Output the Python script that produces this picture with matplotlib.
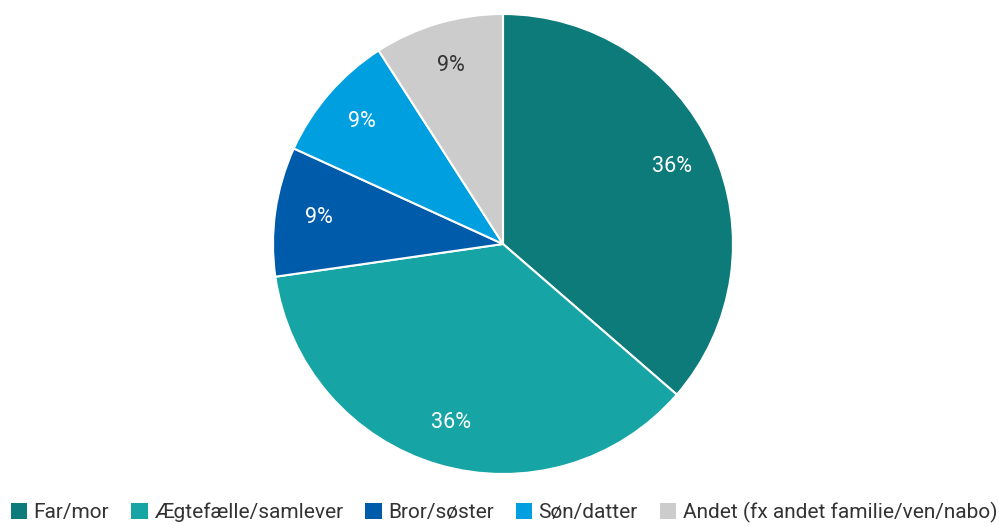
import matplotlib
matplotlib.use("Agg")
import matplotlib.pyplot as plt
from matplotlib.patches import Patch

plt.rcParams["font.family"] = ["Roboto", "DejaVu Sans"]

categories = ["Far/mor", "Ægtefælle/samlever", "Bror/søster", "Søn/datter",
              "Andet (fx andet familie/ven/nabo)"]
values = [4, 4, 1, 1, 1]
colors = ["#0e7b7b", "#17a4a5", "#005bab", "#009fdf", "#cccccc"]
label_colors = ["white", "white", "white", "white", "#333333"]

W, H = 999, 526
fig = plt.figure(figsize=(W / 100, H / 100), dpi=100)

# pie centre (503, 244) px, radius 230 px
cx, cy, r = 503, 244, 230
ax = fig.add_axes([(cx - r) / W, (H - cy - r) / H, 2 * r / W, 2 * r / H])

wedges, texts, autotexts = ax.pie(
    values, colors=colors, startangle=90, counterclock=False,
    autopct="%1.0f%%", pctdistance=0.81,
    wedgeprops=dict(edgecolor="white", linewidth=1.5),
    textprops=dict(fontsize=15.5),
)
for t, c in zip(autotexts, label_colors):
    t.set_color(c)
ax.set_xlim(-1, 1)
ax.set_ylim(-1, 1)
ax.set_aspect("equal")

handles = [Patch(facecolor=c, edgecolor="none") for c in colors]
fig.legend(handles, categories, loc="lower center", bbox_to_anchor=(0.5045, -0.03),
           ncol=5, frameon=False, fontsize=15, handlelength=0.8, handleheight=0.8,
           handletextpad=0.3, columnspacing=1.05, labelcolor="#333333")

fig.savefig("out.png", dpi=100)
